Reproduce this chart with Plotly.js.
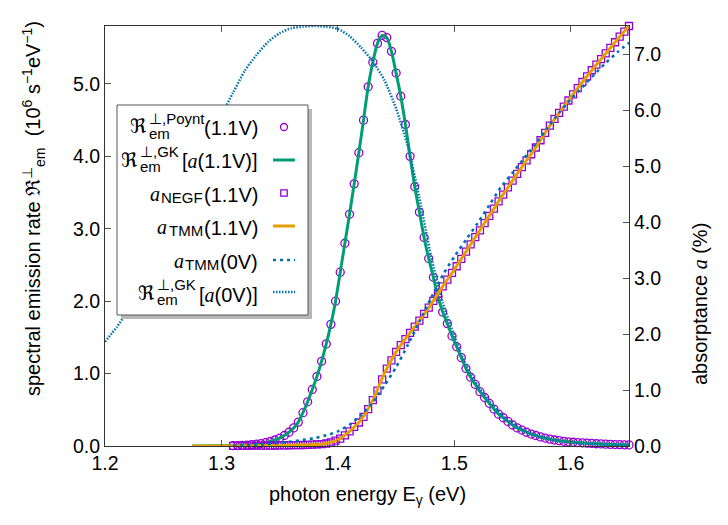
<!DOCTYPE html>
<html>
<head>
<meta charset="utf-8">
<script src="https://cdn.plot.ly/plotly-3.0.1.min.js"></script>
<style>html,body{margin:0;padding:0;background:#fff}</style>
</head>
<body>
<div id="chart" style="width:728px;height:525px"></div>
<script>
// ---------- data ----------
// photon energy grid of the NEGF points (eV)
var eGrid = [1.310,1.314,1.318,1.322,1.326,1.330,1.334,1.338,1.342,1.346,
1.350,1.354,1.358,1.362,1.366,1.370,1.374,1.378,1.382,1.386,
1.390,1.394,1.398,1.402,1.406,1.410,1.414,1.418,1.422,1.426,
1.430,1.434,1.438,1.442,1.446,1.450,1.454,1.458,1.462,1.466,
1.470,1.474,1.478,1.482,1.486,1.490,1.494,1.498,1.502,1.506,
1.510,1.514,1.518,1.522,1.526,1.530,1.534,1.538,1.542,1.546,
1.550,1.554,1.558,1.562,1.566,1.570,1.574,1.578,1.582,1.586,
1.590,1.594,1.598,1.602,1.606,1.610,1.614,1.618,1.622,1.626,
1.630,1.634,1.638,1.642,1.646,1.650];

// spectral emission rate, Poynting (1.1V), 10^6 s^-1 eV^-1
var emPoynt = [0.004,0.006,0.009,0.013,0.018,0.025,0.034,0.046,0.062,0.083,
0.11,0.145,0.19,0.25,0.33,0.46,0.61,0.78,0.96,1.17,
1.41,1.68,2.00,2.40,2.80,3.20,3.62,4.05,4.50,4.96,
5.30,5.56,5.67,5.64,5.45,5.15,4.83,4.44,4.00,3.58,
3.23,2.88,2.59,2.33,2.06,1.85,1.69,1.52,1.37,1.22,
1.07,0.95,0.85,0.75,0.67,0.59,0.51,0.44,0.39,0.34,
0.29,0.25,0.22,0.19,0.165,0.145,0.125,0.11,0.095,0.083,
0.073,0.065,0.058,0.052,0.047,0.043,0.039,0.035,0.031,0.028,
0.025,0.022,0.020,0.018,0.016,0.015];

// spectral emission rate, GK from a(1.1V)
var eGKlead = [1.275,1.280,1.290,1.300];
var emGK = [0.0,0.001,0.002,0.003,
0.004,0.006,0.009,0.013,0.018,0.025,0.034,0.046,0.062,0.083,
0.11,0.145,0.19,0.25,0.33,0.46,0.61,0.78,0.96,1.17,
1.41,1.68,2.00,2.40,2.80,3.20,3.62,4.05,4.50,4.96,
5.30,5.56,5.67,5.64,5.45,5.15,4.83,4.44,4.00,3.58,
3.23,2.88,2.59,2.33,2.06,1.85,1.69,1.52,1.37,1.22,
1.07,0.95,0.85,0.75,0.67,0.59,0.51,0.44,0.39,0.34,
0.29,0.25,0.22,0.19,0.165,0.145,0.125,0.11,0.095,0.083,
0.073,0.065,0.058,0.052,0.047,0.043,0.039,0.035,0.031,0.028,
0.025,0.022,0.020,0.018,0.016,0.015];

// absorptance a_NEGF(1.1V), %
var aNEGF = [0.002,0.003,0.004,0.004,0.005,0.006,0.007,0.008,0.008,0.009,
0.010,0.012,0.013,0.015,0.016,0.018,0.021,0.024,0.028,0.035,
0.045,0.065,0.095,0.13,0.19,0.26,0.34,0.42,0.52,0.66,
0.82,0.99,1.19,1.38,1.53,1.68,1.80,1.91,2.02,2.13,
2.24,2.36,2.47,2.59,2.72,2.85,2.97,3.09,3.21,3.34,
3.47,3.60,3.73,3.85,3.98,4.11,4.24,4.37,4.49,4.62,
4.74,4.86,4.98,5.10,5.21,5.33,5.46,5.59,5.72,5.84,
5.95,6.06,6.17,6.28,6.39,6.50,6.60,6.71,6.81,6.91,
7.01,7.11,7.21,7.31,7.40,7.50];

// absorptance a_TMM(1.1V), %
var eTMM11 = [1.275,1.28,1.29,1.30,1.31,1.32,1.33,1.34,1.35,1.36,1.37,1.38,1.39,1.40,1.41,1.42,1.43,1.44,1.45,1.46,1.47,1.48,1.49,1.50,1.51,1.52,1.53,1.54,1.55,1.56,1.57,1.58,1.59,1.60,1.61,1.62,1.63,1.64,1.65];
var aTMM11 = [0,0,0,0,0.002,0.004,0.006,0.008,0.010,0.014,0.018,0.025,0.045,0.11,0.26,0.47,0.82,1.30,1.68,1.97,2.24,2.53,2.85,3.15,3.47,3.79,4.11,4.43,4.74,5.04,5.33,5.66,5.95,6.23,6.50,6.76,7.01,7.26,7.50];

// absorptance a_TMM(0V), %
var eTMM0 = [1.31,1.32,1.33,1.34,1.35,1.36,1.37,1.38,1.39,1.40,1.41,1.42,1.43,1.44,1.45,1.46,1.47,1.48,1.49,1.50,1.51,1.52,1.53,1.54,1.55,1.56,1.57,1.58,1.59,1.60,1.61,1.62,1.63,1.64,1.65];
var aTMM0 = [0.005,0.01,0.02,0.035,0.055,0.08,0.11,0.14,0.19,0.26,0.38,0.55,0.78,1.08,1.41,1.80,2.22,2.64,3.05,3.38,3.68,3.98,4.30,4.62,4.88,5.14,5.40,5.68,5.95,6.19,6.41,6.63,6.84,7.03,7.20];

// spectral emission rate, GK from a(0V)
var eGK0 = [1.20,1.21,1.22,1.23,1.24,1.25,1.26,1.27,1.28,1.29,1.30,1.31,1.32,1.33,1.34,1.35,1.36,1.37,1.38,1.39,1.40,1.41,1.42,1.43,1.44,1.45,1.46,1.47,1.48,1.49,1.50,1.51,1.52,1.53,1.54,1.55,1.56,1.57,1.58,1.59,1.60,1.61,1.62,1.63,1.64,1.65];
var emGK0 = [1.44,1.64,1.88,2.17,2.48,2.81,3.15,3.51,3.87,4.23,4.57,4.88,5.18,5.40,5.58,5.70,5.77,5.79,5.80,5.79,5.76,5.66,5.50,5.31,5.05,4.66,4.14,3.43,2.62,1.98,1.52,1.12,0.84,0.62,0.44,0.31,0.21,0.145,0.10,0.07,0.05,0.035,0.025,0.018,0.013,0.01];

// tick labels
var xTicks = [1.2,1.3,1.4,1.5,1.6];
var yTicks = [0,1,2,3,4,5];
var y2Ticks = [0,1,2,3,4,5,6,7];

// ---------- styling ----------
var PURPLE = '#9400d3', GREEN = '#009e73', ORANGE = '#e69f00', BLUE = '#0072b2';
var FONT = 'Liberation Sans, Arial, sans-serif';
var SERIF = 'Liberation Serif, DejaVu Serif, serif';
var FRAK = 'DejaVu Serif, DejaVu Sans, serif';

var traces = [
  {x: eGrid, y: emPoynt, mode: 'markers', yaxis: 'y', cliponaxis: false,
   marker: {symbol: 'circle-open', size: 8, color: PURPLE, line: {width: 1.3, color: PURPLE}}},
  {x: eGKlead.concat(eGrid), y: emGK, mode: 'lines', yaxis: 'y',
   line: {color: GREEN, width: 3, shape: 'spline', smoothing: 0.6}},
  {x: eGK0, y: emGK0, mode: 'lines', yaxis: 'y',
   line: {color: BLUE, width: 2.5, dash: '1.5px,1.5px', shape: 'spline', smoothing: 0.6}},
  {x: eGrid, y: aNEGF, mode: 'markers', yaxis: 'y2', cliponaxis: false,
   marker: {symbol: 'square-open', size: 7, color: PURPLE, line: {width: 1.3, color: PURPLE}}},
  {x: eTMM11, y: aTMM11, mode: 'lines', yaxis: 'y2',
   line: {color: ORANGE, width: 3, shape: 'spline', smoothing: 0.6}},
  {x: eTMM0, y: aTMM0, mode: 'lines', yaxis: 'y2',
   line: {color: BLUE, width: 2.6, dash: '3px,4px', shape: 'spline', smoothing: 0.6}}
];

var L = 105, R = 629, T = 26, B = 446;
function X(px) { return (px - L) / (R - L); }
function Y(py) { return (B - py) / (B - T); }
function lab(text, px, py, size, anchor, family, angle) {
  return {text: text, x: X(px), y: Y(py), xref: 'paper', yref: 'paper', showarrow: false,
          xanchor: anchor || 'right', yanchor: 'middle', borderpad: 0, textangle: angle || 0,
          font: {family: family || FONT, size: size, color: '#000'}};
}
var ia = '<span style="font-family:Liberation Serif;font-style:italic">a</span>';

var ann = [
  // axis titles
  lab('photon energy E<sub>γ</sub> (eV)', 367, 495, 20, 'center'),
  lab('spectral emission rate <span style="font-family:DejaVu Serif">ℜ</span><sup>⊥</sup><sub>em</sub>  (10<sup>6</sup> s<sup>−1</sup>eV<sup>−1</sup>)', 33, 209, 20, 'center', FONT, -90),
  lab('absorptance ' + ia + ' (%)', 700, 304, 20, 'center', FONT, -90),
  // legend entry 1
  lab('(1.1V)', 259, 128, 20, 'right'),
  lab('ℜ', 148, 126, 20, 'right', FRAK),
  lab('⊥,Poynt', 148, 118, 15, 'left'),
  lab('em', 148, 133, 15, 'left'),
  // entry 2
  lab('[' + ia + '(1.1V)]', 259, 161.5, 20, 'right'),
  lab('ℜ', 139, 160, 20, 'right', FRAK),
  lab('⊥,GK', 139, 151.5, 15, 'left'),
  lab('em', 139, 166.5, 15, 'left'),
  // entry 3
  lab('(1.1V)', 259, 195, 20, 'right'),
  lab('NEGF', 204, 197.5, 15, 'right'),
  lab(ia, 161, 194, 20, 'right', SERIF),
  // entry 4
  lab('(1.1V)', 259, 228, 20, 'right'),
  lab('TMM', 204, 230.5, 15, 'right'),
  lab(ia, 168, 227, 20, 'right', SERIF),
  // entry 5
  lab('(0V)', 259, 261.5, 20, 'right'),
  lab('TMM', 220, 264, 15, 'right'),
  lab(ia, 185, 260.5, 20, 'right', SERIF),
  // entry 6
  lab('[' + ia + '(0V)]', 259, 294.5, 20, 'right'),
  lab('ℜ', 156, 293, 20, 'right', FRAK),
  lab('⊥,GK', 156, 284.5, 15, 'left'),
  lab('em', 156, 299.5, 15, 'left')
];

function seg(x0, x1, py, color, width, dash) {
  return {type: 'line', xref: 'paper', yref: 'paper', x0: X(x0), x1: X(x1), y0: Y(py), y1: Y(py),
          layer: 'above', line: {color: color, width: width, dash: dash || 'solid'}};
}
var shapes = [
  {type: 'rect', xref: 'paper', yref: 'paper', x0: X(121), x1: X(312), y0: Y(109), y1: Y(319),
   layer: 'above', fillcolor: '#b8b8b8', line: {width: 0}},
  {type: 'rect', xref: 'paper', yref: 'paper', x0: X(117), x1: X(308), y0: Y(105), y1: Y(315),
   layer: 'above', fillcolor: '#ffffff', line: {color: '#555', width: 1}},
  {type: 'circle', xref: 'paper', yref: 'paper', xsizemode: 'pixel', ysizemode: 'pixel',
   xanchor: X(284), yanchor: Y(127), x0: -3.5, x1: 3.5, y0: -3.5, y1: 3.5,
   layer: 'above', line: {color: PURPLE, width: 1.3}},
  seg(273, 295, 160, GREEN, 3),
  {type: 'rect', xref: 'paper', yref: 'paper', xsizemode: 'pixel', ysizemode: 'pixel',
   xanchor: X(284), yanchor: Y(193), x0: -3.2, x1: 3.2, y0: -3.2, y1: 3.2,
   layer: 'above', line: {color: PURPLE, width: 1.3}},
  seg(273, 295, 226, ORANGE, 3),
  seg(273, 295, 260, BLUE, 2.6, '3px,4px'),
  seg(273, 295, 292, BLUE, 2.5, '1.5px,1.5px')
];

var axisCommon = {ticks: 'inside', ticklen: 6, tickwidth: 1, tickcolor: '#555',
  showline: true, linecolor: '#333', linewidth: 1, showgrid: false, zeroline: false,
  tickfont: {family: FONT, size: 19.5, color: '#000'}, tickformat: '.1f'};

var layout = {
  width: 728, height: 525,
  margin: {l: L, r: 728 - R, t: T, b: 525 - B},
  paper_bgcolor: '#fff', plot_bgcolor: '#fff',
  showlegend: false,
  font: {family: FONT, size: 19.5, color: '#000'},
  xaxis: Object.assign({}, axisCommon, {range: [1.2, 1.65], tickvals: xTicks, mirror: 'ticks'}),
  yaxis: Object.assign({}, axisCommon, {range: [0, 5.8], tickvals: yTicks}),
  yaxis2: Object.assign({}, axisCommon, {range: [0, 7.5], tickvals: y2Ticks, overlaying: 'y', side: 'right'}),
  annotations: ann,
  shapes: shapes
};

Plotly.newPlot('chart', traces, layout, {staticPlot: true, displayModeBar: false});
</script>
</body>
</html>
